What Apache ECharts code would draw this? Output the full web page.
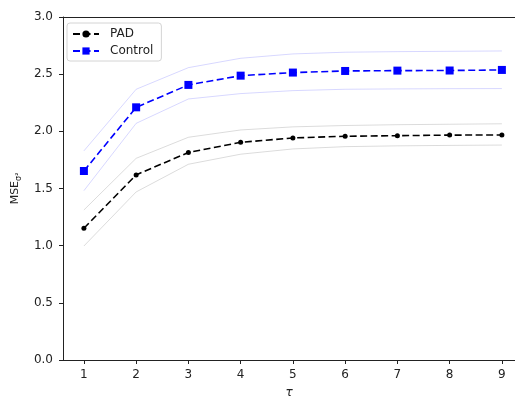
<!DOCTYPE html>
<html><head><meta charset="utf-8">
<script src="https://cdn.jsdelivr.net/npm/echarts@6/dist/echarts.min.js"></script>
<style>html,body{margin:0;padding:0;background:#fff}#c{width:515px;height:396px}</style>
</head><body><div id="c"></div>
<script>
const taus = [1, 2, 3, 4, 5, 6, 7, 8, 9];
const padMean = [1.152, 1.619, 1.815, 1.904, 1.942, 1.957, 1.962, 1.967, 1.968];
const padUpper = [1.312, 1.764, 1.948, 2.012, 2.039, 2.051, 2.058, 2.062, 2.066];
const padLower = [0.997, 1.470, 1.712, 1.800, 1.846, 1.866, 1.873, 1.877, 1.880];
const ctrlMean = [1.653, 2.210, 2.406, 2.487, 2.514, 2.528, 2.531, 2.532, 2.537];
const ctrlUpper = [1.829, 2.368, 2.557, 2.639, 2.677, 2.692, 2.697, 2.700, 2.703];
const ctrlLower = [1.481, 2.070, 2.283, 2.330, 2.356, 2.368, 2.371, 2.373, 2.374];
const yTicks = [0, 0.5, 1.0, 1.5, 2.0, 2.5, 3.0];

const pts = arr => taus.map((t, i) => [t, arr[i]]);
const font = 'DejaVu Sans';

const chart = echarts.init(document.getElementById('c'), null, {renderer: 'canvas'});
chart.setOption({
  animation: false,
  backgroundColor: '#fff',
  textStyle: {fontFamily: font},
  grid: {left: 63, right: 0, top: 17, bottom: 36, outerBoundsMode: 'none', containLabel: false},
  legend: {
    orient: 'vertical', left: 67, top: 23,
    padding: [5, 8, 4, 5], itemGap: 5, itemWidth: 26, itemHeight: 9,
    borderColor: '#d4d4d4', borderWidth: 1, borderRadius: 3,
    textStyle: {fontFamily: font, fontSize: 12, color: '#222', padding: [0, 0, 0, 6]},
    data: ['PAD', 'Control']
  },
  xAxis: [{
    type: 'value', min: 0.6, max: 9.251,
    splitLine: {show: false},
    axisLine: {show: true, onZero: false, lineStyle: {color: '#222', width: 1}},
    axisTick: {show: true, length: 4, lineStyle: {color: '#222'}, customValues: taus},
    axisLabel: {fontFamily: font, fontSize: 12, color: '#222', margin: 9, customValues: taus, formatter: v => String(v)},
    name: 'τ', nameLocation: 'middle', nameGap: 27,
    nameTextStyle: {fontFamily: font, fontSize: 12, fontStyle: 'italic', color: '#222'}
  }, {
    type: 'value', min: 0.6, max: 9.251, position: 'top',
    splitLine: {show: false}, axisTick: {show: false}, axisLabel: {show: false},
    axisLine: {show: true, onZero: false, lineStyle: {color: '#222', width: 1}}
  }],
  yAxis: {
    type: 'value', min: 0, max: 3, interval: 0.5,
    splitLine: {show: false},
    axisLine: {show: true, lineStyle: {color: '#222', width: 1}},
    axisTick: {show: true, length: 4, lineStyle: {color: '#222'}},
    axisLabel: {fontFamily: font, fontSize: 12, color: '#222', margin: 10,
      formatter: v => yTicks.includes(v) ? v.toFixed(1) : ''},
    name: '{m|MSE}{s|σ²}', nameLocation: 'middle', nameGap: 40, nameRotate: 90,
    nameTextStyle: {rich: {
      m: {fontFamily: font, fontSize: 11, color: '#222'},
      s: {fontFamily: font, fontSize: 8, color: '#222', padding: [7, 0, 0, 0]}
    }}
  },
  series: [
    {name: 'padU', type: 'line', data: pts(padUpper), symbol: 'none', silent: true,
      lineStyle: {color: 'rgba(0,0,0,0.18)', width: 0.8}, z: 1},
    {name: 'padL', type: 'line', data: pts(padLower), symbol: 'none', silent: true,
      lineStyle: {color: 'rgba(0,0,0,0.18)', width: 0.8}, z: 1},
    {name: 'ctrlU', type: 'line', data: pts(ctrlUpper), symbol: 'none', silent: true,
      lineStyle: {color: 'rgba(0,0,255,0.2)', width: 0.8}, z: 1},
    {name: 'ctrlL', type: 'line', data: pts(ctrlLower), symbol: 'none', silent: true,
      lineStyle: {color: 'rgba(0,0,255,0.2)', width: 0.8}, z: 1},
    {name: 'PAD', type: 'line', data: pts(padMean), symbol: 'circle', symbolSize: 5,
      itemStyle: {color: '#000'}, lineStyle: {color: '#000', width: 1.6, type: [7, 3.5]}, z: 3},
    {name: 'Control', type: 'line', data: pts(ctrlMean), symbol: 'rect', symbolSize: 8,
      itemStyle: {color: '#0000ff'}, lineStyle: {color: '#0000ff', width: 1.6, type: [7, 3.5]}, z: 3}
  ]
});
</script></body></html>
